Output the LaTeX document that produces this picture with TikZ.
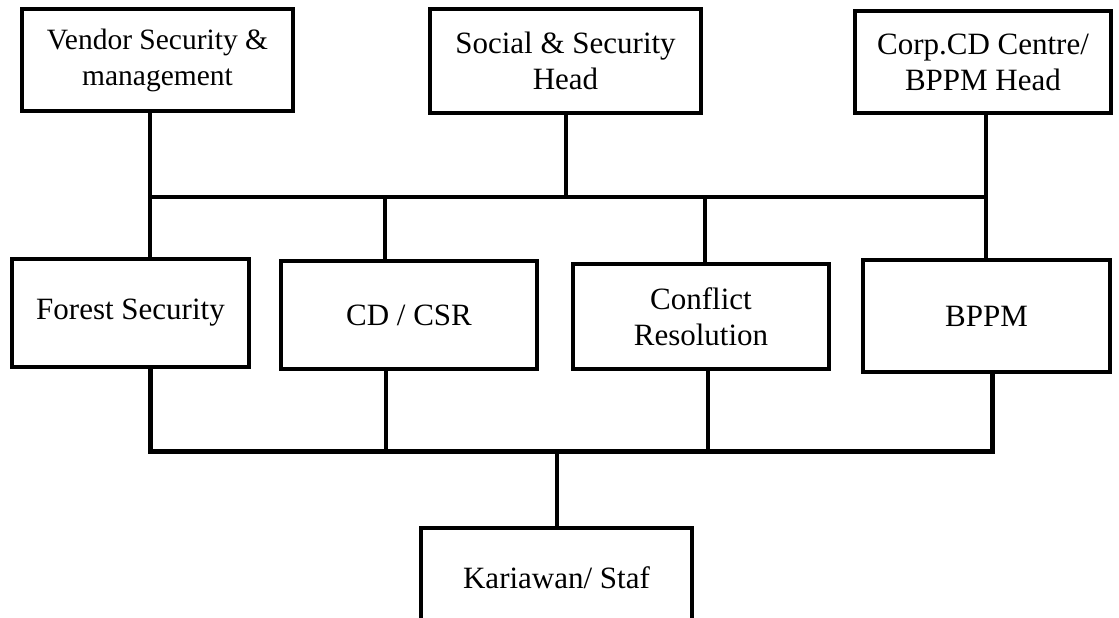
\documentclass[tikz,border=0pt]{standalone}
\usepackage{fontspec}
\setmainfont{Liberation Serif}
\begin{document}
\begin{tikzpicture}[x=1pt,y=-1pt,
  box/.style={draw=black,line width=4pt,inner sep=0pt,align=center,
    font=\fontsize{31}{36}\selectfont,fill=white},
  smallbox/.style={box,font=\fontsize{29.5}{36}\selectfont},
  link/.style={draw=black,line width=4pt},
  buslink/.style={draw=black,line width=5pt,line join=miter}]
\useasboundingbox (0,0) rectangle (1119,618);
% top row
\node[smallbox,minimum width=271pt,minimum height=101pt] (vendor) at (157.5,60) {Vendor Security \&\\management};
\node[box,minimum width=271pt,minimum height=104pt] (social) at (565.5,61) {Social \& Security\\Head};
\node[box,minimum width=256pt,minimum height=102pt] (corp) at (983,62) {Corp.CD Centre/\\BPPM Head};
% middle row
\node[box,minimum width=237pt,minimum height=108pt] (forest) at (130.5,313) {Forest Security};
\node[box,minimum width=256pt,minimum height=108pt] (cdcsr) at (409,315) {CD / CSR};
\node[box,minimum width=256pt,minimum height=105pt] (conflict) at (701,316.5) {Conflict\\Resolution};
\node[box,minimum width=247pt,minimum height=112pt] (bppm) at (986.5,316) {BPPM};
% bottom
\node[box,minimum width=271pt,minimum height=100pt] (staf) at (556.5,578) {Kariawan/ Staf};
% bus coordinates
\coordinate (ua) at (150,197);
\coordinate (ub) at (986,197);
\coordinate (la) at (150,451);
\coordinate (lb) at (992,451);
\coordinate (lm) at (557,451);
% upper connectors
\draw[link] (vendor.south -| ua) -- (forest.north -| ua);
\draw[link] (social.south) -- (social.south |- ua);
\draw[link] (corp.south -| ub) -- (bppm.north -| ub);
\draw[link] (ua) -- (ub);
\draw[link] (385,197) -- (cdcsr.north -| 385,0);
\draw[link] (705,197) -- (conflict.north -| 705,0);
% lower connectors
\draw[buslink] (forest.south -| la) -- (la) -- (lb) -- (bppm.south -| lb);
\draw[link] (cdcsr.south -| 386,0) -- (386,451);
\draw[link] (conflict.south -| 708,0) -- (708,451);
\draw[link] (lm) -- (staf.north -| lm);
\end{tikzpicture}
\end{document}
